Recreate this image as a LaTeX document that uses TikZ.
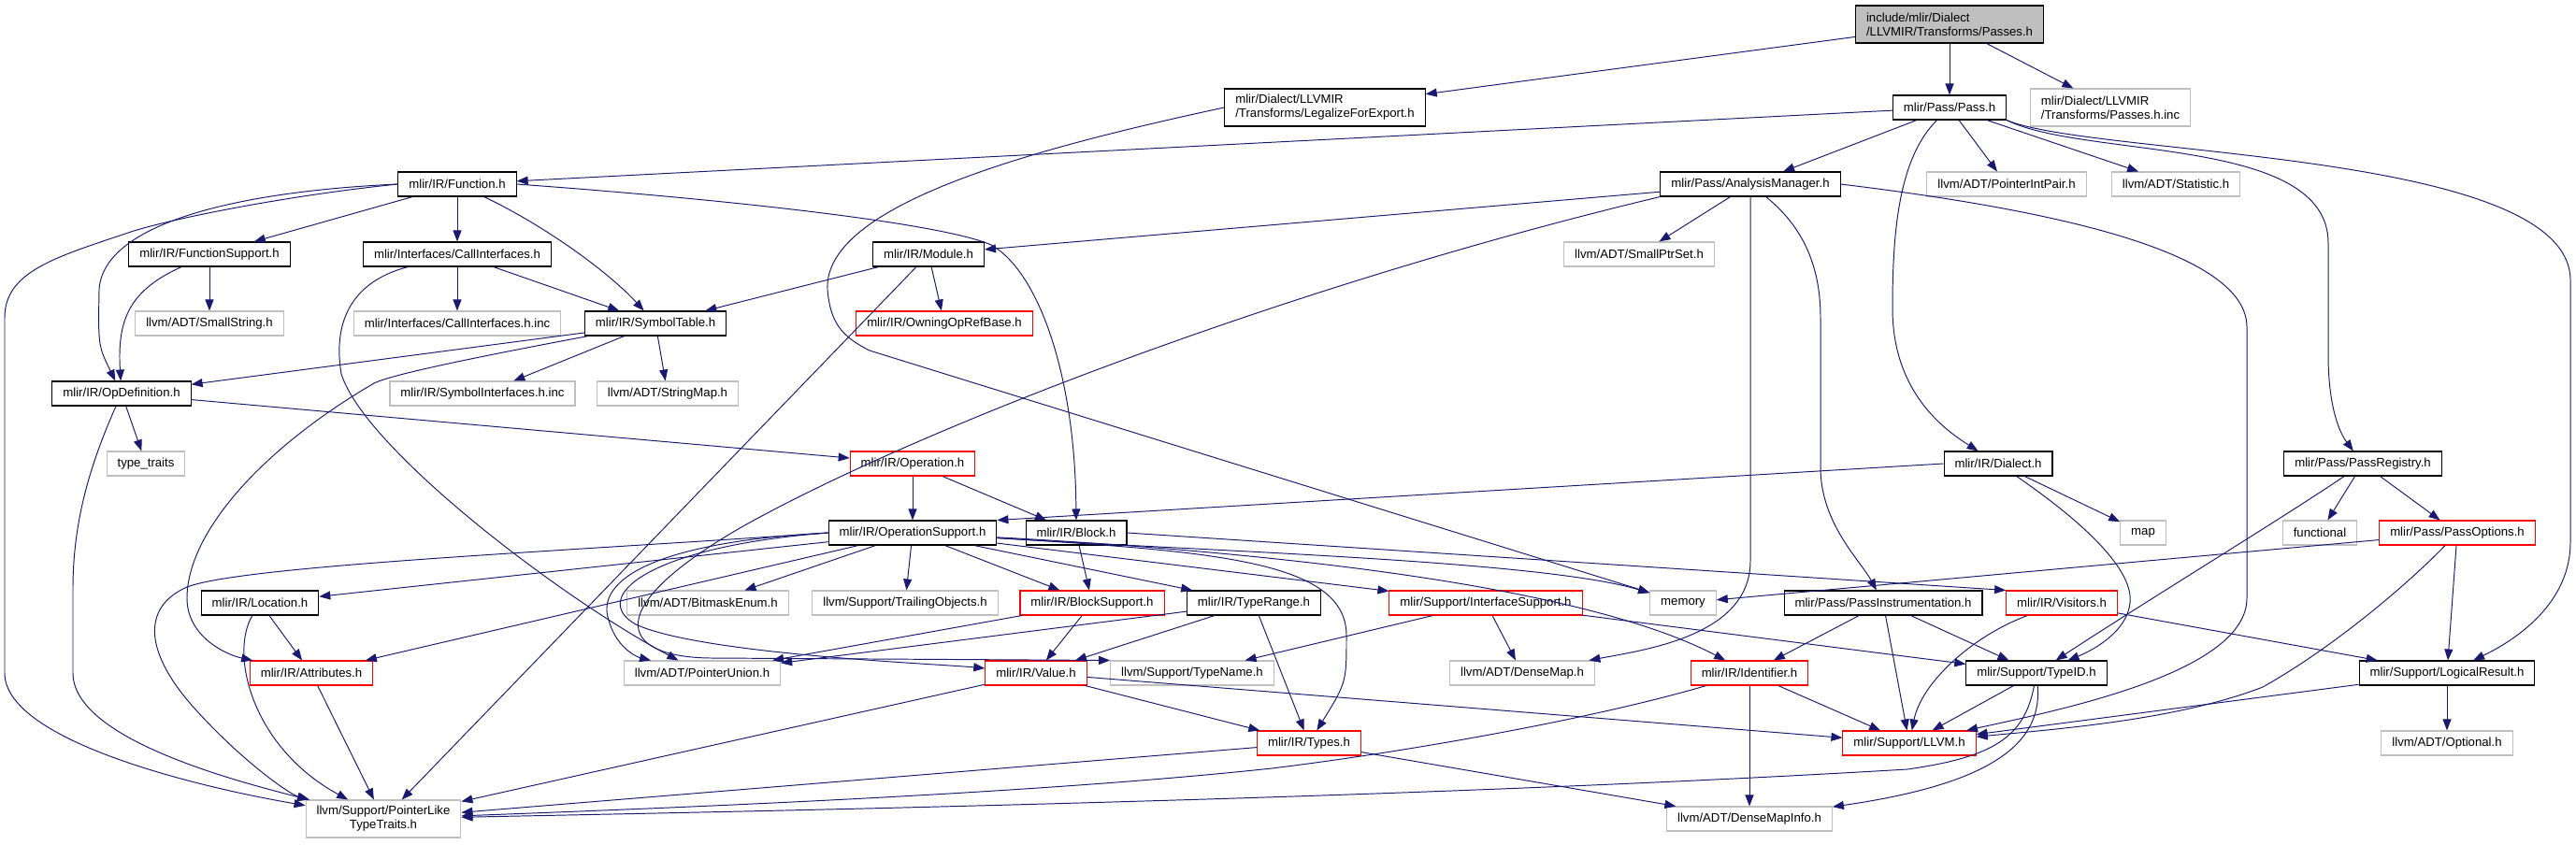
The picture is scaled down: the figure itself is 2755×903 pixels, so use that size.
\documentclass[tikz,border=0pt]{standalone}
\usepackage{fontspec}
\setmainfont{Liberation Sans}
\usetikzlibrary{arrows.meta}
\definecolor{edgeblue}{HTML}{191970}
\definecolor{extgray}{HTML}{BFBFBF}
\definecolor{cutred}{HTML}{FF0000}
\begin{document}
\begin{tikzpicture}[
  x=0.02cm, y=-0.02cm,
  file/.style={draw=black, line width=0.6pt, fill=white, minimum height=0.52cm, inner xsep=0.23cm, inner ysep=0pt, font=\fontsize{7.5}{8.5}\selectfont},
  extfile/.style={file, draw=extgray},
  cutfile/.style={file, draw=cutred},
  twoline/.style={align=left, minimum height=0.8cm},
  rootfile/.style={file, twoline, fill=extgray},
  inc/.style={-{Triangle[length=0.24cm, width=0.18cm]}, draw=edgeblue, line width=0.55pt}
]
\fill[white] (0,0) rectangle (2755,903);
\useasboundingbox (0,0) rectangle (2755,903);

\node[rootfile] (root) at (2085,26) {include/mlir/Dialect\\/LLVMIR/Transforms/Passes.h};
\node[file, twoline] (legal) at (1417,115) {mlir/Dialect/LLVMIR\\/Transforms/LegalizeForExport.h};
\node[file] (pass) at (2085,115) {mlir/Pass/Pass.h};
\node[extfile, twoline] (passinc) at (2257,115) {mlir/Dialect/LLVMIR\\/Transforms/Passes.h.inc};
\node[file] (func) at (489,197) {mlir/IR/Function.h};
\node[file] (anmgr) at (1872,197) {mlir/Pass/AnalysisManager.h};
\node[extfile] (ptrint) at (2146,197) {llvm/ADT/PointerIntPair.h};
\node[extfile] (stat) at (2327,197) {llvm/ADT/Statistic.h};
\node[file] (funcsup) at (224,272) {mlir/IR/FunctionSupport.h};
\node[file] (callif) at (489,272) {mlir/Interfaces/CallInterfaces.h};
\node[file] (module) at (993,272) {mlir/IR/Module.h};
\node[extfile] (smallptr) at (1753,272) {llvm/ADT/SmallPtrSet.h};
\node[extfile] (smallstr) at (224,346) {llvm/ADT/SmallString.h};
\node[extfile] (callifinc) at (489,346) {mlir/Interfaces/CallInterfaces.h.inc};
\node[file] (symtab) at (701,346) {mlir/IR/SymbolTable.h};
\node[cutfile] (owning) at (1010,346) {mlir/IR/OwningOpRefBase.h};
\node[file] (opdef) at (130,421) {mlir/IR/OpDefinition.h};
\node[extfile] (symifinc) at (516,421) {mlir/IR/SymbolInterfaces.h.inc};
\node[extfile] (strmap) at (714,421) {llvm/ADT/StringMap.h};
\node[extfile] (typetr) at (156,496) {type\_traits};
\node[cutfile] (operation) at (976,496) {mlir/IR/Operation.h};
\node[file] (dialect) at (2137,496) {mlir/IR/Dialect.h};
\node[file] (passreg) at (2527,496) {mlir/Pass/PassRegistry.h};
\node[file] (opsup) at (976,570) {mlir/IR/OperationSupport.h};
\node[file] (block) at (1151,570) {mlir/IR/Block.h};
\node[extfile] (map) at (2292,570) {map};
\node[extfile] (functional) at (2481,570) {functional};
\node[cutfile] (passopt) at (2628,570) {mlir/Pass/PassOptions.h};
\node[file] (location) at (278,645) {mlir/IR/Location.h};
\node[extfile] (bitmask) at (757,645) {llvm/ADT/BitmaskEnum.h};
\node[extfile] (trailing) at (968,645) {llvm/Support/TrailingObjects.h};
\node[cutfile] (blocksup) at (1168,645) {mlir/IR/BlockSupport.h};
\node[file] (typerange) at (1341,645) {mlir/IR/TypeRange.h};
\node[cutfile] (ifsup) at (1589,645) {mlir/Support/InterfaceSupport.h};
\node[extfile] (memory) at (1800,645) {memory};
\node[file] (passinstr) at (2014,645) {mlir/Pass/PassInstrumentation.h};
\node[cutfile] (visitors) at (2205,645) {mlir/IR/Visitors.h};
\node[cutfile] (attr) at (333,720) {mlir/IR/Attributes.h};
\node[extfile] (ptrunion) at (751,720) {llvm/ADT/PointerUnion.h};
\node[cutfile] (value) at (1108,720) {mlir/IR/Value.h};
\node[extfile] (typename) at (1275,720) {llvm/Support/TypeName.h};
\node[extfile] (densemap) at (1628,720) {llvm/ADT/DenseMap.h};
\node[cutfile] (ident) at (1871,720) {mlir/IR/Identifier.h};
\node[file] (typeid) at (2178,720) {mlir/Support/TypeID.h};
\node[file] (logres) at (2617,720) {mlir/Support/LogicalResult.h};
\node[cutfile] (types) at (1400,795) {mlir/IR/Types.h};
\node[cutfile] (llvm) at (2042,795) {mlir/Support/LLVM.h};
\node[extfile] (optional) at (2617,795) {llvm/ADT/Optional.h};
\node[extfile, align=center, minimum height=0.8cm] (pltt) at (410,876) {llvm/Support/PointerLike\\TypeTraits.h};
\node[extfile] (dmi) at (1871,876) {llvm/ADT/DenseMapInfo.h};

\draw[inc] (root) -- (legal);
\draw[inc] (root) -- (pass);
\draw[inc] (root) -- (passinc);
\draw[inc] (legal.west) .. controls (1100,160) and (880,220) .. (885,310) .. controls (888,345) and (900,360) .. (930,375) -- (memory);
\draw[inc] (pass) -- (func);
\draw[inc] (pass) -- (anmgr);
\draw[inc] (pass) -- (ptrint);
\draw[inc] (pass) -- (stat);
\draw[inc] (pass) .. controls (2030,170) and (2024,250) .. (2024,330) .. controls (2024,420) and (2080,460) .. (dialect);
\draw[inc] (pass.south east) .. controls (2230,170) and (2490,145) .. (2490,260) -- (2490,380) .. controls (2490,430) and (2500,460) .. (passreg);
\draw[inc] (pass.south east) .. controls (2240,168) and (2749,160) .. (2749,300) -- (2749,580) .. controls (2749,640) and (2700,680) .. (logres);
\draw[inc] (anmgr) -- (module);
\draw[inc] (anmgr) -- (smallptr);
\draw[inc] (anmgr.south west) .. controls (1400,300) and (1000,450) .. (800,560) .. controls (640,650) and (660,703) .. (760,704) -- (typename.north west);
\draw[inc] (anmgr.south) -- (1872,600) .. controls (1872,680) and (1760,695) .. (densemap);
\draw[inc] (anmgr) .. controls (1925,240) and (1947,280) .. (1947,340) -- (1947,500) .. controls (1947,560) and (1990,600) .. (passinstr);
\draw[inc] (anmgr.east) .. controls (2200,225) and (2403,270) .. (2403,350) -- (2403,640) .. controls (2403,720) and (2200,760) .. (llvm);
\draw[inc] (func) -- (funcsup);
\draw[inc] (func) -- (callif);
\draw[inc] (func) .. controls (580,240) and (650,290) .. (symtab);
\draw[inc] (func.west) .. controls (250,205) and (110,240) .. (106,310) .. controls (105,370) .. (opdef);
\draw[inc] (func.west) .. controls (300,210) and (180,235) .. (140,248) .. controls (60,275) and (5,290) .. (5,340) -- (5,720) .. controls (5,790) and (200,840) .. (pltt);
\draw[inc] (func.east) .. controls (800,215) and (1010,240) .. (1060,262) .. controls (1110,290) and (1150,400) .. (block);
\draw[inc] (funcsup) -- (smallstr);
\draw[inc] (funcsup) .. controls (140,310) and (125,340) .. (opdef);
\draw[inc] (callif) -- (callifinc);
\draw[inc] (callif) -- (symtab);
\draw[inc] (callif) .. controls (380,300) and (355,340) .. (365,400) .. controls (390,480) and (600,640) .. (ptrunion);
\draw[inc] (symtab) -- (opdef);
\draw[inc] (symtab) -- (symifinc);
\draw[inc] (symtab) -- (strmap);
\draw[inc] (symtab) .. controls (520,380) and (420,400) .. (400,410) .. controls (280,480) and (200,570) .. (200,640) .. controls (200,680) and (240,700) .. (attr);
\draw[inc] (module) -- (symtab);
\draw[inc] (module) -- (owning);
\draw[inc] (module) -- (pltt);
\draw[inc] (opdef) -- (typetr);
\draw[inc] (opdef) -- (operation);
\draw[inc] (opdef) .. controls (95,500) and (78,560) .. (78,630) -- (78,720) .. controls (78,790) and (250,835) .. (pltt);
\draw[inc] (operation) -- (opsup);
\draw[inc] (operation) -- (block);
\draw[inc] (dialect.west) -- (opsup.north east);
\draw[inc] (dialect) -- (map);
\draw[inc] (dialect) .. controls (2230,560) and (2282,610) .. (2278,645) .. controls (2275,675) and (2240,695) .. (typeid);
\draw[inc] (passreg) -- (functional);
\draw[inc] (passreg) -- (passopt);
\draw[inc] (passreg) .. controls (2440,555) and (2300,640) .. (typeid);
\draw[inc] (passopt) -- (memory);
\draw[inc] (passopt) -- (logres);
\draw[inc] (passopt) .. controls (2580,620) and (2500,690) .. (2420,735) .. controls (2330,770) and (2200,780) .. (llvm);
\draw[inc] (logres) -- (llvm);
\draw[inc] (logres) -- (optional);
\draw[inc] (passinstr) -- (ident);
\draw[inc] (passinstr) -- (llvm);
\draw[inc] (passinstr) -- (typeid);
\draw[inc] (visitors) .. controls (2110,680) and (2055,730) .. (llvm);
\draw[inc] (visitors) -- (logres);
\draw[inc] (typeid) -- (llvm);
\draw[inc] (typeid) .. controls (2185,800) and (2120,840) .. (dmi);
\draw[inc] (typeid) .. controls (2165,790) and (2130,810) .. (2040,823) .. controls (1500,855) and (800,868) .. (pltt);
\draw[inc] (ident) -- (dmi);
\draw[inc] (ident) -- (llvm);
\draw[inc] (ident) .. controls (1700,770) and (1500,805) .. (1360,822) .. controls (1100,850) and (700,865) .. (pltt);
\draw[inc] (value) -- (types);
\draw[inc] (value) -- (llvm);
\draw[inc] (value) -- (pltt);
\draw[inc] (types) -- (dmi);
\draw[inc] (types) -- (pltt);
\draw[inc] (blocksup) -- (value);
\draw[inc] (blocksup) -- (ptrunion);
\draw[inc] (typerange) -- (ptrunion);
\draw[inc] (typerange) -- (value);
\draw[inc] (typerange) -- (types);
\draw[inc] (block) -- (blocksup);
\draw[inc] (block.east) -- (visitors.north west);
\draw[inc] (ifsup) -- (densemap);
\draw[inc] (ifsup) -- (typename);
\draw[inc] (ifsup) -- (typeid);
\draw[inc] (location) -- (attr);
\draw[inc] (location) .. controls (245,700) and (270,800) .. (pltt);
\draw[inc] (attr) -- (pltt);
\draw[inc] (opsup) -- (location);
\draw[inc] (opsup) -- (attr);
\draw[inc] (opsup) -- (bitmask);
\draw[inc] (opsup) -- (trailing);
\draw[inc] (opsup) -- (blocksup);
\draw[inc] (opsup) -- (typerange);
\draw[inc] (opsup) -- (ifsup);
\draw[inc] (opsup) .. controls (1300,590) and (1650,600) .. (memory);
\draw[inc] (opsup) .. controls (1350,590) and (1690,625) .. (ident);
\draw[inc] (opsup) .. controls (1300,590) and (1440,600) .. (1440,680) .. controls (1440,730) .. (types);
\draw[inc] (opsup.west) .. controls (700,580) and (640,620) .. (650,660) .. controls (660,700) and (690,705) .. (ptrunion);
\draw[inc] (opsup.west) .. controls (690,585) and (630,640) .. (680,668) .. controls (750,700) and (1000,710) .. (value);
\draw[inc] (opsup.west) .. controls (600,590) and (260,605) .. (200,628) .. controls (150,650) and (155,700) .. (210,760) .. controls (260,815) and (310,850) .. (pltt);
\end{tikzpicture}
\end{document}
